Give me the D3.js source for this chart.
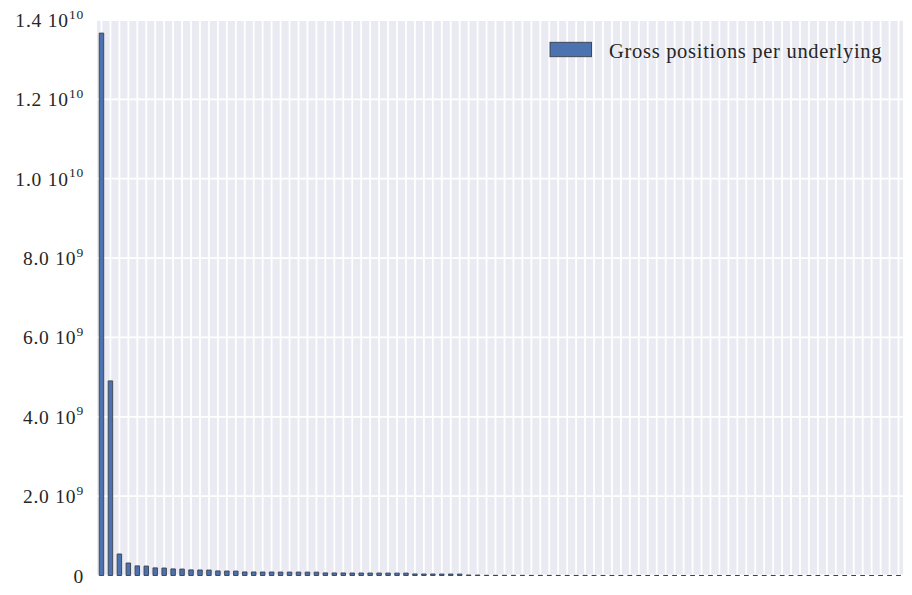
<!DOCTYPE html>
<html>
<head>
<meta charset="utf-8">
<script src="https://cdn.jsdelivr.net/npm/d3@7/dist/d3.min.js"></script>
<style>
  body { margin: 0; background: #fff; }
  text { font-family: "Liberation Serif", "DejaVu Serif", serif; fill: #262626; }
</style>
</head>
<body>
<div class="container"></div>
<script>
let width = 912,
    height = 595;

// gross positions per underlying, sorted
let underlyings = d3.range(1, 91).map(function (d) { return "U" + d; });
let grossTop = [1.367e10, 4.905e9, 5.42e8, 3.15e8, 2.42e8, 2.38e8, 1.92e8, 1.88e8, 1.66e8, 1.62e8];
let grossMid = [1.41e8, 1.39e8, 1.37e8, 1.15e8, 1.13e8, 1.11e8, 9.0e7, 8.9e7, 8.8e7, 8.8e7,
                8.7e7, 8.6e7, 8.6e7, 8.5e7, 8.4e7, 6.5e7, 6.4e7, 6.4e7, 6.3e7, 6.3e7,
                6.2e7, 6.2e7, 6.1e7, 6.0e7, 6.0e7, 3.9e7, 3.8e7, 3.8e7, 3.7e7, 3.7e7,
                3.6e7, 1.3e7, 1.2e7];
let grossTail = [6e6, 5e6, 5e6, 4e6, 4e6, 3e6, 3e6, 3e6, 2e6, 2e6,
                 2e6, 2e6, 1.5e6, 1.5e6, 1.5e6, 1.2e6, 1.2e6, 1e6, 1e6, 1e6,
                 9e5, 8e5, 8e5, 7e5, 7e5, 6e5, 6e5, 5e5, 5e5, 5e5,
                 4e5, 4e5, 4e5, 3e5, 3e5, 3e5, 2e5, 2e5, 2e5, 2e5,
                 1e5, 1e5, 1e5, 1e5, 1e5, 5e4, 5e4];
let gross = grossTop.concat(grossMid, grossTail);

let yTicks = [0, 2e9, 4e9, 6e9, 8e9, 1e10, 1.2e10, 1.4e10];
let seriesName = "Gross positions per underlying";

let plot = {left: 97, right: 903, top: 20, bottom: 575.5};

let svg = d3.select('.container')
    .append('svg')
    .attr('xmlns', 'http://www.w3.org/2000/svg')
    .attr('width', width)
    .attr('height', height);

let x = d3.scaleBand()
    .domain(underlyings)
    .range([plot.left, plot.right])
    .paddingInner(0.5)
    .paddingOuter(0.25);

let y = d3.scaleLinear()
    .domain([0, 1.4e10])
    .range([plot.bottom, plot.top]);

// seaborn darkgrid background
svg.append('rect')
    .attr('x', plot.left)
    .attr('y', plot.top)
    .attr('width', plot.right - plot.left)
    .attr('height', plot.bottom - plot.top)
    .attr('fill', '#EAEAF2');

// vertical grid at each category
svg.append('g')
    .selectAll('line')
    .data(underlyings)
    .enter().append('line')
    .attr('x1', function (d) { return x(d) + x.bandwidth() / 2; })
    .attr('x2', function (d) { return x(d) + x.bandwidth() / 2; })
    .attr('y1', plot.top)
    .attr('y2', plot.bottom)
    .attr('stroke', '#fff')
    .attr('stroke-width', 1.8);

// horizontal grid
svg.append('g')
    .selectAll('line')
    .data(yTicks)
    .enter().append('line')
    .attr('x1', plot.left)
    .attr('x2', plot.right)
    .attr('y1', function (d) { return y(d); })
    .attr('y2', function (d) { return y(d); })
    .attr('stroke', '#fff')
    .attr('stroke-width', 1.8);

// bars as paths so that the near-zero ones still show their outline
svg.append('g')
    .selectAll('path')
    .data(gross)
    .enter().append('path')
    .attr('d', function (d, i) {
        let x0 = x(underlyings[i]), w = x.bandwidth();
        return "M" + x0 + "," + y(0) + "H" + (x0 + w) + "V" + y(d) + "H" + x0 + "Z";
    })
    .attr('fill', '#4C72B0')
    .attr('stroke', '#3a3f4a')
    .attr('stroke-width', 0.9);

// y tick labels like "1.4 10^10"
let labels = svg.append('g')
    .selectAll('text')
    .data(yTicks)
    .enter().append('text')
    .attr('x', 84)
    .attr('y', function (d) { return y(d) + 7; })
    .attr('text-anchor', 'end')
    .style('font-size', '19.5px')
    .style('letter-spacing', '0.8px');

labels.each(function (d) {
    let t = d3.select(this);
    if (d === 0) {
        t.text("0");
        return;
    }
    let e = Math.floor(Math.log10(d));
    let m = d / Math.pow(10, e);
    t.append('tspan').text(m.toFixed(1) + " 10");
    t.append('tspan')
        .attr('dy', -8.5)
        .style('font-size', '13.5px')
        .text(e);
});

// legend
let legend = svg.append('g');
legend.append('rect')
    .attr('x', 550)
    .attr('y', 42.3)
    .attr('width', 41.5)
    .attr('height', 14.4)
    .attr('fill', '#4C72B0')
    .attr('stroke', '#3a3f4a')
    .attr('stroke-width', 0.9);
legend.append('text')
    .attr('x', 609)
    .attr('y', 57.5)
    .style('font-size', '20.5px')
    .style('letter-spacing', '0.7px')
    .text(seriesName);
</script>
</body>
</html>
